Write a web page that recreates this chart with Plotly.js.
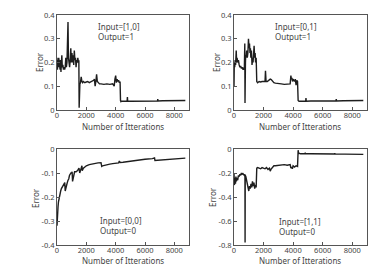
<!DOCTYPE html>
<html>
<head>
<meta charset="utf-8">
<script src="https://cdn.plot.ly/plotly-3.0.1.min.js"></script>
<style>html,body{margin:0;padding:0;background:#fff;}#chart{width:374px;height:267px;}</style>
</head>
<body>
<div id="chart"></div>
<script>
// Panel A: Input=[1,0], Output=1
const xA = [0,30,60,90,120,150,180,210,240,270,300,330,360,400,440,480,520,560,600,640,680,720,750,780,820,860,900,940,980,1020,1060,1100,1140,1180,1220,1260,1300,1340,1380,1420,1460,1490,1510,1530,1560,1600,1650,1700,1750,1800,1900,2000,2100,2200,2300,2400,2500,2550,2600,2650,2700,2750,2800,2900,3000,3200,3400,3600,3800,3900,3950,4000,4050,4100,4150,4200,4250,4300,4330,4360,4400,4600,4780,4800,4820,5000,5500,6000,6500,6850,6870,6890,7200,7600,8000,8400,8750];
const yA = [0.22,0.17,0.21,0.18,0.22,0.19,0.20,0.17,0.21,0.16,0.20,0.23,0.18,0.19,0.17,0.18,0.17,0.18,0.22,0.18,0.20,0.30,0.37,0.22,0.20,0.18,0.21,0.26,0.20,0.24,0.20,0.23,0.19,0.25,0.21,0.22,0.18,0.21,0.20,0.22,0.20,0.21,0.01,0.10,0.11,0.115,0.14,0.12,0.115,0.12,0.115,0.118,0.12,0.115,0.118,0.12,0.125,0.13,0.10,0.12,0.15,0.12,0.115,0.11,0.11,0.108,0.11,0.108,0.11,0.10,0.13,0.145,0.115,0.13,0.12,0.125,0.115,0.12,0.04,0.035,0.037,0.037,0.037,0.055,0.037,0.037,0.038,0.038,0.038,0.038,0.046,0.038,0.039,0.039,0.04,0.04,0.04];

// Panel B: Input=[0,1], Output=1
const xB = [0,20,50,80,110,150,180,210,250,300,350,400,450,500,550,600,650,700,730,745,760,775,790,820,860,900,940,980,1020,1050,1080,1110,1140,1180,1220,1260,1290,1320,1360,1400,1430,1460,1500,1540,1600,1700,1800,1900,2000,2100,2130,2150,2170,2250,2350,2450,2520,2600,2700,2800,3000,3200,3400,3600,3800,3850,3880,3920,3960,4000,4050,4100,4150,4200,4250,4300,4340,4370,4400,4600,4850,4870,4890,5200,5800,6400,6900,6920,6940,7400,8000,8750];
const yB = [0.10,0.20,0.18,0.21,0.19,0.25,0.20,0.22,0.20,0.21,0.19,0.18,0.185,0.175,0.18,0.17,0.175,0.17,0.28,0.03,0.22,0.20,0.23,0.22,0.25,0.22,0.24,0.30,0.26,0.28,0.24,0.26,0.22,0.25,0.19,0.22,0.20,0.23,0.27,0.22,0.24,0.20,0.22,0.12,0.115,0.12,0.118,0.12,0.12,0.12,0.165,0.125,0.12,0.12,0.125,0.13,0.128,0.12,0.115,0.113,0.11,0.11,0.108,0.108,0.11,0.145,0.13,0.135,0.12,0.13,0.125,0.12,0.13,0.105,0.125,0.12,0.04,0.037,0.037,0.037,0.037,0.05,0.037,0.038,0.038,0.038,0.038,0.046,0.038,0.039,0.039,0.04];

// Panel C: Input=[0,0], Output=0
const xC = [0,20,40,70,100,150,200,250,300,350,400,450,500,530,560,600,650,700,750,800,850,900,950,1000,1030,1060,1100,1150,1200,1300,1400,1500,1550,1600,1650,1700,1720,1750,1800,1900,2000,2200,2400,2600,2800,3000,3050,3100,3200,3400,3600,3800,4000,4200,4250,4300,4500,5000,5500,6000,6500,6650,6680,7000,7500,8000,8750];
const yC = [-0.32,-0.26,-0.30,-0.24,-0.22,-0.20,-0.19,-0.175,-0.165,-0.16,-0.155,-0.15,-0.145,-0.14,-0.175,-0.16,-0.15,-0.14,-0.13,-0.125,-0.11,-0.10,-0.10,-0.10,-0.095,-0.135,-0.12,-0.10,-0.095,-0.095,-0.09,-0.08,-0.10,-0.09,-0.08,-0.07,-0.09,-0.085,-0.08,-0.075,-0.07,-0.065,-0.062,-0.06,-0.058,-0.057,-0.072,-0.07,-0.068,-0.065,-0.063,-0.061,-0.06,-0.058,-0.05,-0.056,-0.055,-0.05,-0.046,-0.043,-0.04,-0.037,-0.048,-0.046,-0.044,-0.041,-0.038];

// Panel D: Input=[1,1], Output=0
const xD = [0,20,40,60,80,100,130,160,200,250,300,350,400,450,500,550,600,650,700,740,750,760,800,850,900,950,1000,1050,1100,1150,1200,1250,1300,1350,1400,1450,1500,1540,1600,1700,1800,1900,2000,2100,2200,2300,2400,2450,2500,2600,2700,2800,3000,3200,3400,3600,3800,3850,3900,3950,4000,4100,4200,4300,4340,4370,4400,4500,4800,4820,4840,5200,6000,6800,6820,6840,7500,8750];
const yD = [-0.20,-0.30,-0.22,-0.28,-0.24,-0.29,-0.23,-0.27,-0.24,-0.26,-0.22,-0.23,-0.21,-0.22,-0.20,-0.21,-0.205,-0.21,-0.22,-0.21,-0.78,-0.22,-0.23,-0.26,-0.30,-0.32,-0.35,-0.31,-0.33,-0.29,-0.32,-0.27,-0.31,-0.28,-0.33,-0.30,-0.32,-0.16,-0.155,-0.16,-0.165,-0.155,-0.16,-0.165,-0.155,-0.17,-0.16,-0.185,-0.17,-0.15,-0.14,-0.14,-0.135,-0.135,-0.13,-0.135,-0.13,-0.16,-0.15,-0.165,-0.14,-0.15,-0.14,-0.145,-0.01,-0.04,-0.035,-0.04,-0.04,-0.03,-0.04,-0.04,-0.042,-0.042,-0.035,-0.042,-0.043,-0.045];

const labelsTop = ["Input=[1,0]<br>Output=1", "Input=[0,1]<br>Output=1"];
const labelsBottom = ["Input=[0,0]<br>Output=0", "Input=[1,1]<br>Output=0"];
const xTicks = [0,2000,4000,6000,8000];
const xTickText = ["0","2000","4000","6000","8000"];
const yTicksTop = [0,0.1,0.2,0.3,0.4];
const yTickTextTop = ["0","0.1","0.2","0.3","0.4"];
const yTicksC = [-0.4,-0.3,-0.2,-0.1,0];
const yTickTextC = ["-0.4","-0.3","-0.2","-0.1","0"];
const yTicksD = [-0.8,-0.6,-0.4,-0.2,0];
const yTickTextD = ["-0.8","-0.6","-0.4","-0.2","0"];
const xTitle = "Number of Itterations";
const yTitle = "Error";

const W = 374, H = 267;
const px = v => v / W;
const py = v => 1 - v / H;
const FONT = "Noto Sans, sans-serif";
const lineStyle = {color: "#1e1e1e", width: 1.4};

const traces = [
  {x: xA, y: yA, xaxis: "x", yaxis: "y", mode: "lines", line: lineStyle},
  {x: xB, y: yB, xaxis: "x2", yaxis: "y2", mode: "lines", line: lineStyle},
  {x: xC, y: yC, xaxis: "x3", yaxis: "y3", mode: "lines", line: lineStyle},
  {x: xD, y: yD, xaxis: "x4", yaxis: "y4", mode: "lines", line: lineStyle}
];

function xa(dom, anchor) {
  return {domain: dom, anchor: anchor, range: [0, 9000], tickvals: xTicks, ticktext: xTickText,
    showline: true, mirror: true, linecolor: "#555", linewidth: 1, ticks: "inside", ticklen: 3,
    tickcolor: "#555", showgrid: false, zeroline: false, ticklabelstandoff: -2,
    tickfont: {size: 7.5, color: "#444", family: FONT}};
}
function ya(dom, anchor, rng, tv, tt) {
  return {domain: dom, anchor: anchor, range: rng, tickvals: tv, ticktext: tt,
    showline: true, mirror: true, linecolor: "#555", linewidth: 1, ticks: "inside", ticklen: 3,
    tickcolor: "#555", showgrid: false, zeroline: false, tickfont: {size: 7.5, color: "#444", family: FONT}};
}

const dxL = [px(57), px(189)], dxR = [px(234), px(367)];
const dyT = [py(110), py(15)], dyB = [py(245), py(149)];

const ann = [];
function addText(x, y, text, opts) {
  ann.push(Object.assign({xref: "paper", yref: "paper", x: px(x), y: py(y), text: text, showarrow: false,
    font: {size: 8, color: "#444", family: FONT}}, opts || {}));
}
addText(96, 31, labelsTop[0], {xanchor: "left", yanchor: "middle", align: "left"});
addText(273, 31, labelsTop[1], {xanchor: "left", yanchor: "middle", align: "left"});
addText(98, 225, labelsBottom[0], {xanchor: "left", yanchor: "middle", align: "left"});
addText(277, 226, labelsBottom[1], {xanchor: "left", yanchor: "middle", align: "left"});
addText(123, 126, xTitle, {xanchor: "center", yanchor: "middle"});
addText(300, 126, xTitle, {xanchor: "center", yanchor: "middle"});
addText(123, 260, xTitle, {xanchor: "center", yanchor: "middle"});
addText(300, 260, xTitle, {xanchor: "center", yanchor: "middle"});
addText(39, 62, yTitle, {xanchor: "center", yanchor: "middle", textangle: -90});
addText(216, 62, yTitle, {xanchor: "center", yanchor: "middle", textangle: -90});
addText(35, 198, yTitle, {xanchor: "center", yanchor: "middle", textangle: -90});
addText(212, 197, yTitle, {xanchor: "center", yanchor: "middle", textangle: -90});

const layout = {
  width: W, height: H, margin: {l: 0, r: 0, t: 0, b: 0}, showlegend: false,
  paper_bgcolor: "#fff", plot_bgcolor: "#fff", font: {family: FONT},
  xaxis: xa(dxL, "y"), yaxis: ya(dyT, "x", [0, 0.4], yTicksTop, yTickTextTop),
  xaxis2: xa(dxR, "y2"), yaxis2: ya(dyT, "x2", [0, 0.4], yTicksTop, yTickTextTop),
  xaxis3: xa(dxL, "y3"), yaxis3: ya(dyB, "x3", [-0.4, 0], yTicksC, yTickTextC),
  xaxis4: xa(dxR, "y4"), yaxis4: ya(dyB, "x4", [-0.8, 0], yTicksD, yTickTextD),
  annotations: ann
};

Plotly.newPlot("chart", traces, layout, {staticPlot: true, displayModeBar: false});
</script>
</body>
</html>
